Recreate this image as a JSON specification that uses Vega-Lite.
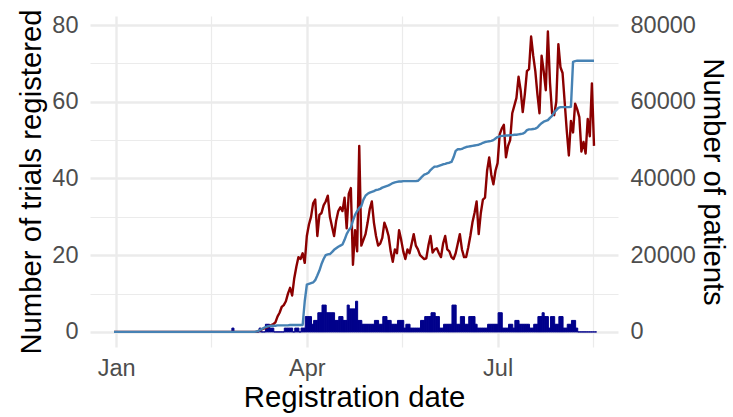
{
  "$schema": "https://vega.github.io/schema/vega-lite/v6.json",
  "width": 528,
  "height": 331,
  "autosize": {"type": "none"},
  "padding": {"left": 90, "top": 16, "right": 115, "bottom": 70},
  "background": "white",
  "config": {
    "view": {"stroke": null},
    "font": "Liberation Sans",
    "axis": {
      "domain": false,
      "ticks": false,
      "tickSize": 0,
      "labelFont": "Liberation Sans",
      "titleFont": "Liberation Sans",
      "labelFontSize": 23.5,
      "titleFontSize": 29.3,
      "labelColor": "#4D4D4D",
      "titleColor": "#000000",
      "titleFontWeight": "normal",
      "gridColor": "#EBEBEB",
      "labelPadding": 12,
      "titlePadding": 5,
      "labelOverlap": false,
      "labelFlush": false
    }
  },
  "data": {"values": [
    {"date":"2019-12-31","trials":0,"trend":0,"patients":0},
    {"date":"2020-01-01","trials":0,"trend":0,"patients":0},
    {"date":"2020-01-02","trials":0,"trend":0,"patients":0},
    {"date":"2020-01-03","trials":0,"trend":0,"patients":0},
    {"date":"2020-01-04","trials":0,"trend":0,"patients":0},
    {"date":"2020-01-05","trials":0,"trend":0,"patients":0},
    {"date":"2020-01-06","trials":0,"trend":0,"patients":0},
    {"date":"2020-01-07","trials":0,"trend":0,"patients":0},
    {"date":"2020-01-08","trials":0,"trend":0,"patients":0},
    {"date":"2020-01-09","trials":0,"trend":0,"patients":0},
    {"date":"2020-01-10","trials":0,"trend":0,"patients":0},
    {"date":"2020-01-11","trials":0,"trend":0,"patients":0},
    {"date":"2020-01-12","trials":0,"trend":0,"patients":0},
    {"date":"2020-01-13","trials":0,"trend":0,"patients":0},
    {"date":"2020-01-14","trials":0,"trend":0,"patients":0},
    {"date":"2020-01-15","trials":0,"trend":0,"patients":0},
    {"date":"2020-01-16","trials":0,"trend":0,"patients":0},
    {"date":"2020-01-17","trials":0,"trend":0,"patients":0},
    {"date":"2020-01-18","trials":0,"trend":0,"patients":0},
    {"date":"2020-01-19","trials":0,"trend":0,"patients":0},
    {"date":"2020-01-20","trials":0,"trend":0,"patients":0},
    {"date":"2020-01-21","trials":0,"trend":0,"patients":0},
    {"date":"2020-01-22","trials":0,"trend":0,"patients":0},
    {"date":"2020-01-23","trials":0,"trend":0,"patients":0},
    {"date":"2020-01-24","trials":0,"trend":0,"patients":0},
    {"date":"2020-01-25","trials":0,"trend":0,"patients":0},
    {"date":"2020-01-26","trials":0,"trend":0,"patients":0},
    {"date":"2020-01-27","trials":0,"trend":0,"patients":0},
    {"date":"2020-01-28","trials":0,"trend":0,"patients":0},
    {"date":"2020-01-29","trials":0,"trend":0,"patients":0},
    {"date":"2020-01-30","trials":0,"trend":0,"patients":0},
    {"date":"2020-01-31","trials":0,"trend":0,"patients":0},
    {"date":"2020-02-01","trials":0,"trend":0,"patients":0},
    {"date":"2020-02-02","trials":0,"trend":0,"patients":0},
    {"date":"2020-02-03","trials":0,"trend":0,"patients":0},
    {"date":"2020-02-04","trials":0,"trend":0,"patients":0},
    {"date":"2020-02-05","trials":0,"trend":0,"patients":0},
    {"date":"2020-02-06","trials":0,"trend":0,"patients":0},
    {"date":"2020-02-07","trials":0,"trend":0,"patients":0},
    {"date":"2020-02-08","trials":0,"trend":0,"patients":0},
    {"date":"2020-02-09","trials":0,"trend":0,"patients":0},
    {"date":"2020-02-10","trials":0,"trend":0,"patients":0},
    {"date":"2020-02-11","trials":0,"trend":0,"patients":0},
    {"date":"2020-02-12","trials":0,"trend":0,"patients":0},
    {"date":"2020-02-13","trials":0,"trend":0,"patients":0},
    {"date":"2020-02-14","trials":0,"trend":0,"patients":0},
    {"date":"2020-02-15","trials":0,"trend":0,"patients":0},
    {"date":"2020-02-16","trials":0,"trend":0,"patients":0},
    {"date":"2020-02-17","trials":0,"trend":0,"patients":0},
    {"date":"2020-02-18","trials":0,"trend":0,"patients":0},
    {"date":"2020-02-19","trials":0,"trend":0,"patients":0},
    {"date":"2020-02-20","trials":0,"trend":0,"patients":0},
    {"date":"2020-02-21","trials":0,"trend":0,"patients":0},
    {"date":"2020-02-22","trials":0,"trend":0,"patients":0},
    {"date":"2020-02-23","trials":0,"trend":0,"patients":0},
    {"date":"2020-02-24","trials":0,"trend":0,"patients":0},
    {"date":"2020-02-25","trials":1,"trend":0,"patients":0},
    {"date":"2020-02-26","trials":0,"trend":0,"patients":0},
    {"date":"2020-02-27","trials":0,"trend":0,"patients":0},
    {"date":"2020-02-28","trials":0,"trend":0,"patients":0},
    {"date":"2020-02-29","trials":0,"trend":0,"patients":0},
    {"date":"2020-03-01","trials":0,"trend":0,"patients":0},
    {"date":"2020-03-02","trials":0,"trend":0,"patients":0},
    {"date":"2020-03-03","trials":0,"trend":0,"patients":0},
    {"date":"2020-03-04","trials":0,"trend":0,"patients":0},
    {"date":"2020-03-05","trials":0,"trend":0,"patients":0},
    {"date":"2020-03-06","trials":0,"trend":0,"patients":0},
    {"date":"2020-03-07","trials":0,"trend":0,"patients":0},
    {"date":"2020-03-08","trials":0,"trend":0,"patients":100},
    {"date":"2020-03-09","trials":1,"trend":0.3,"patients":300},
    {"date":"2020-03-10","trials":0,"trend":0.5,"patients":600},
    {"date":"2020-03-11","trials":0,"trend":0.8,"patients":900},
    {"date":"2020-03-12","trials":2,"trend":1,"patients":1200},
    {"date":"2020-03-13","trials":2,"trend":1.2,"patients":1400},
    {"date":"2020-03-14","trials":1,"trend":1.5,"patients":1500},
    {"date":"2020-03-15","trials":1,"trend":1.8,"patients":1600},
    {"date":"2020-03-16","trials":0,"trend":2,"patients":1600},
    {"date":"2020-03-17","trials":0,"trend":2.5,"patients":1600},
    {"date":"2020-03-18","trials":0,"trend":4,"patients":1700},
    {"date":"2020-03-19","trials":0,"trend":5,"patients":1700},
    {"date":"2020-03-20","trials":0,"trend":6.5,"patients":1700},
    {"date":"2020-03-21","trials":1,"trend":7,"patients":1700},
    {"date":"2020-03-22","trials":1,"trend":8,"patients":1700},
    {"date":"2020-03-23","trials":1,"trend":10,"patients":1700},
    {"date":"2020-03-24","trials":1,"trend":11.5,"patients":1800},
    {"date":"2020-03-25","trials":0,"trend":9.5,"patients":1800},
    {"date":"2020-03-26","trials":1,"trend":14,"patients":1800},
    {"date":"2020-03-27","trials":1,"trend":17,"patients":1800},
    {"date":"2020-03-28","trials":0,"trend":19.5,"patients":1800},
    {"date":"2020-03-29","trials":1,"trend":19,"patients":1800},
    {"date":"2020-03-30","trials":1,"trend":20.5,"patients":1800},
    {"date":"2020-03-31","trials":4,"trend":18,"patients":8000},
    {"date":"2020-04-01","trials":4,"trend":25,"patients":12300},
    {"date":"2020-04-02","trials":4,"trend":28,"patients":12500},
    {"date":"2020-04-03","trials":2,"trend":30,"patients":12700},
    {"date":"2020-04-04","trials":3,"trend":33.5,"patients":12900},
    {"date":"2020-04-05","trials":3,"trend":34.5,"patients":13500},
    {"date":"2020-04-06","trials":5,"trend":25,"patients":14700},
    {"date":"2020-04-07","trials":5,"trend":30.5,"patients":16000},
    {"date":"2020-04-08","trials":7,"trend":31,"patients":17700},
    {"date":"2020-04-09","trials":7,"trend":33,"patients":19000},
    {"date":"2020-04-10","trials":5,"trend":34,"patients":20000},
    {"date":"2020-04-11","trials":5,"trend":35.5,"patients":20200},
    {"date":"2020-04-12","trials":5,"trend":30,"patients":20300},
    {"date":"2020-04-13","trials":5,"trend":27.5,"patients":20800},
    {"date":"2020-04-14","trials":3,"trend":25,"patients":21400},
    {"date":"2020-04-15","trials":3,"trend":29,"patients":21800},
    {"date":"2020-04-16","trials":4,"trend":31.5,"patients":22200},
    {"date":"2020-04-17","trials":4,"trend":32.5,"patients":22500},
    {"date":"2020-04-18","trials":3,"trend":31.5,"patients":22800},
    {"date":"2020-04-19","trials":3,"trend":35,"patients":24000},
    {"date":"2020-04-20","trials":7,"trend":27,"patients":25500},
    {"date":"2020-04-21","trials":6,"trend":36,"patients":26500},
    {"date":"2020-04-22","trials":6,"trend":37.5,"patients":27200},
    {"date":"2020-04-23","trials":6,"trend":17.5,"patients":29000},
    {"date":"2020-04-24","trials":8,"trend":26.5,"patients":30500},
    {"date":"2020-04-25","trials":3,"trend":21,"patients":31500},
    {"date":"2020-04-26","trials":3,"trend":48.5,"patients":32300},
    {"date":"2020-04-27","trials":2,"trend":22.5,"patients":32800},
    {"date":"2020-04-28","trials":2,"trend":24,"patients":34500},
    {"date":"2020-04-29","trials":2,"trend":25.5,"patients":35500},
    {"date":"2020-04-30","trials":2,"trend":28.5,"patients":36000},
    {"date":"2020-05-01","trials":2,"trend":32,"patients":36300},
    {"date":"2020-05-02","trials":2,"trend":34,"patients":36500},
    {"date":"2020-05-03","trials":3,"trend":28.5,"patients":36700},
    {"date":"2020-05-04","trials":3,"trend":25,"patients":37000},
    {"date":"2020-05-05","trials":2,"trend":22.5,"patients":37100},
    {"date":"2020-05-06","trials":2,"trend":23,"patients":37300},
    {"date":"2020-05-07","trials":4,"trend":24.5,"patients":37600},
    {"date":"2020-05-08","trials":4,"trend":28.5,"patients":37800},
    {"date":"2020-05-09","trials":3,"trend":27,"patients":38000},
    {"date":"2020-05-10","trials":3,"trend":25,"patients":38200},
    {"date":"2020-05-11","trials":2,"trend":21,"patients":38500},
    {"date":"2020-05-12","trials":2,"trend":18.3,"patients":38800},
    {"date":"2020-05-13","trials":2,"trend":21.5,"patients":39000},
    {"date":"2020-05-14","trials":3,"trend":20.5,"patients":39100},
    {"date":"2020-05-15","trials":3,"trend":26.5,"patients":39200},
    {"date":"2020-05-16","trials":3,"trend":24,"patients":39200},
    {"date":"2020-05-17","trials":1,"trend":21,"patients":39300},
    {"date":"2020-05-18","trials":2,"trend":19,"patients":39300},
    {"date":"2020-05-19","trials":2,"trend":21.5,"patients":39300},
    {"date":"2020-05-20","trials":1,"trend":20.5,"patients":39300},
    {"date":"2020-05-21","trials":1,"trend":23,"patients":39300},
    {"date":"2020-05-22","trials":1,"trend":25.5,"patients":39300},
    {"date":"2020-05-23","trials":1,"trend":22.5,"patients":39300},
    {"date":"2020-05-24","trials":1,"trend":21.5,"patients":39400},
    {"date":"2020-05-25","trials":3,"trend":20,"patients":39900},
    {"date":"2020-05-26","trials":3,"trend":19.5,"patients":40500},
    {"date":"2020-05-27","trials":4,"trend":19,"patients":41000},
    {"date":"2020-05-28","trials":4,"trend":19.2,"patients":41200},
    {"date":"2020-05-29","trials":4,"trend":22.5,"patients":41500},
    {"date":"2020-05-30","trials":5,"trend":25,"patients":42200},
    {"date":"2020-05-31","trials":5,"trend":20.7,"patients":42700},
    {"date":"2020-06-01","trials":4,"trend":21.5,"patients":43100},
    {"date":"2020-06-02","trials":4,"trend":21.8,"patients":43100},
    {"date":"2020-06-03","trials":1,"trend":20.5,"patients":43300},
    {"date":"2020-06-04","trials":1,"trend":19.5,"patients":43500},
    {"date":"2020-06-05","trials":2,"trend":23,"patients":43700},
    {"date":"2020-06-06","trials":2,"trend":25,"patients":43800},
    {"date":"2020-06-07","trials":2,"trend":21.5,"patients":44000},
    {"date":"2020-06-08","trials":2,"trend":21,"patients":44100},
    {"date":"2020-06-09","trials":7,"trend":19.5,"patients":44300},
    {"date":"2020-06-10","trials":7,"trend":19,"patients":45500},
    {"date":"2020-06-11","trials":2,"trend":20.5,"patients":47200},
    {"date":"2020-06-12","trials":2,"trend":23,"patients":47600},
    {"date":"2020-06-13","trials":4,"trend":25.5,"patients":47600},
    {"date":"2020-06-14","trials":4,"trend":21.5,"patients":47700},
    {"date":"2020-06-15","trials":2,"trend":19.5,"patients":48000},
    {"date":"2020-06-16","trials":2,"trend":19.5,"patients":48200},
    {"date":"2020-06-17","trials":4,"trend":22,"patients":48300},
    {"date":"2020-06-18","trials":4,"trend":25,"patients":48400},
    {"date":"2020-06-19","trials":4,"trend":28.5,"patients":48500},
    {"date":"2020-06-20","trials":2,"trend":31,"patients":48600},
    {"date":"2020-06-21","trials":1,"trend":34,"patients":48700},
    {"date":"2020-06-22","trials":1,"trend":25.5,"patients":48800},
    {"date":"2020-06-23","trials":1,"trend":31,"patients":49000},
    {"date":"2020-06-24","trials":1,"trend":34.5,"patients":49300},
    {"date":"2020-06-25","trials":1,"trend":35,"patients":49500},
    {"date":"2020-06-26","trials":2,"trend":42,"patients":49600},
    {"date":"2020-06-27","trials":2,"trend":45.5,"patients":49700},
    {"date":"2020-06-28","trials":2,"trend":41,"patients":49800},
    {"date":"2020-06-29","trials":2,"trend":38.5,"patients":50000},
    {"date":"2020-06-30","trials":2,"trend":42,"patients":50400},
    {"date":"2020-07-01","trials":5,"trend":44,"patients":50800},
    {"date":"2020-07-02","trials":5,"trend":51.5,"patients":51000},
    {"date":"2020-07-03","trials":1,"trend":53,"patients":51100},
    {"date":"2020-07-04","trials":1,"trend":54,"patients":51100},
    {"date":"2020-07-05","trials":1,"trend":45.5,"patients":51200},
    {"date":"2020-07-06","trials":2,"trend":48.5,"patients":51200},
    {"date":"2020-07-07","trials":2,"trend":50,"patients":51300},
    {"date":"2020-07-08","trials":1,"trend":57,"patients":51300},
    {"date":"2020-07-09","trials":3,"trend":59,"patients":51400},
    {"date":"2020-07-10","trials":3,"trend":61,"patients":51400},
    {"date":"2020-07-11","trials":2,"trend":66.5,"patients":51500},
    {"date":"2020-07-12","trials":2,"trend":63,"patients":51600},
    {"date":"2020-07-13","trials":2,"trend":57.3,"patients":51700},
    {"date":"2020-07-14","trials":2,"trend":62,"patients":52000},
    {"date":"2020-07-15","trials":2,"trend":68,"patients":52600},
    {"date":"2020-07-16","trials":1,"trend":68.5,"patients":52800},
    {"date":"2020-07-17","trials":1,"trend":77,"patients":52800},
    {"date":"2020-07-18","trials":2,"trend":72,"patients":52900},
    {"date":"2020-07-19","trials":2,"trend":68,"patients":53000},
    {"date":"2020-07-20","trials":4,"trend":62,"patients":53300},
    {"date":"2020-07-21","trials":4,"trend":57,"patients":53900},
    {"date":"2020-07-22","trials":5,"trend":72,"patients":54400},
    {"date":"2020-07-23","trials":4,"trend":68,"patients":54800},
    {"date":"2020-07-24","trials":4,"trend":63,"patients":55000},
    {"date":"2020-07-25","trials":1,"trend":78.3,"patients":55200},
    {"date":"2020-07-26","trials":4,"trend":65,"patients":55800},
    {"date":"2020-07-27","trials":4,"trend":57,"patients":56300},
    {"date":"2020-07-28","trials":2,"trend":56.5,"patients":57200},
    {"date":"2020-07-29","trials":2,"trend":60,"patients":57800},
    {"date":"2020-07-30","trials":4,"trend":75,"patients":58400},
    {"date":"2020-07-31","trials":4,"trend":69,"patients":58600},
    {"date":"2020-08-01","trials":1,"trend":67.5,"patients":58600},
    {"date":"2020-08-02","trials":1,"trend":60,"patients":58600},
    {"date":"2020-08-03","trials":2,"trend":52.5,"patients":58600},
    {"date":"2020-08-04","trials":2,"trend":46,"patients":58600},
    {"date":"2020-08-05","trials":3,"trend":55,"patients":58700},
    {"date":"2020-08-06","trials":3,"trend":52,"patients":70400},
    {"date":"2020-08-07","trials":1,"trend":59.5,"patients":70600},
    {"date":"2020-08-08","trials":0,"trend":58,"patients":70700},
    {"date":"2020-08-09","trials":0,"trend":56,"patients":70700},
    {"date":"2020-08-10","trials":0,"trend":47,"patients":70700},
    {"date":"2020-08-11","trials":0,"trend":49.5,"patients":70700},
    {"date":"2020-08-12","trials":0,"trend":46.5,"patients":70700},
    {"date":"2020-08-13","trials":0,"trend":55.5,"patients":70700},
    {"date":"2020-08-14","trials":0,"trend":51,"patients":70700},
    {"date":"2020-08-15","trials":0,"trend":64.8,"patients":70700},
    {"date":"2020-08-16","trials":0,"trend":48.5,"patients":70700}
  ]},
  "layer": [
    {
      "mark": {"type": "bar", "color": "#00008B", "stroke": "#00008B", "strokeWidth": 1, "binSpacing": 0},
      "encoding": {
        "x": {
          "field": "date", "type": "temporal", "timeUnit": "utcyearmonthdate",
          "title": "Registration date",
          "scale": {"type": "utc", "domain": [
            {"year": 2019, "month": 12, "date": 19, "hours": 13, "minutes": 12, "utc": true},
            {"year": 2020, "month": 8, "date": 27, "hours": 10, "minutes": 48, "utc": true}
          ]},
          "axis": {
            "values": [
              {"year": 2020, "month": 1, "date": 1, "utc": true},
              {"year": 2020, "month": 2, "date": 15, "hours": 12, "utc": true},
              {"year": 2020, "month": 4, "date": 1, "utc": true},
              {"year": 2020, "month": 5, "date": 16, "hours": 12, "utc": true},
              {"year": 2020, "month": 7, "date": 1, "utc": true},
              {"year": 2020, "month": 8, "date": 15, "hours": 12, "utc": true}
            ],
            "labelPadding": 9,
            "titlePadding": 4,
            "labelExpr": "utcdate(datum.value) == 1 ? utcFormat(datum.value, '%b') : ''",
            "gridWidth": {"condition": {"test": "utcdate(datum.value) == 1", "value": 2.4}, "value": 1.2}
          }
        },
        "y": {
          "field": "trials", "type": "quantitative",
          "title": "Number of trials registered",
          "scale": {"domain": [-3.93, 82.35], "nice": false, "zero": false},
          "axis": {
            "values": [0, 10, 20, 30, 40, 50, 60, 70, 80],
            "labelExpr": "datum.value % 20 == 0 ? datum.label : ''",
            "gridWidth": {"condition": {"test": "datum.value % 20 == 0", "value": 2.4}, "value": 1.2}
          }
        }
      }
    },
    {
      "mark": {"type": "line", "color": "#8B0000", "strokeWidth": 2.4, "strokeJoin": "round"},
      "encoding": {
        "x": {"field": "date", "type": "temporal", "title": "Registration date"},
        "y": {
          "field": "trend", "type": "quantitative",
          "scale": {"domain": [-3.93, 82.35], "nice": false, "zero": false},
          "axis": null
        }
      }
    },
    {
      "mark": {"type": "line", "color": "#4682B4", "strokeWidth": 2.4, "strokeJoin": "round"},
      "encoding": {
        "x": {"field": "date", "type": "temporal", "title": "Registration date"},
        "y": {
          "field": "patients", "type": "quantitative",
          "title": "Number of patients",
          "scale": {"domain": [-3930, 82350], "nice": false, "zero": false},
          "axis": {"orient": "right", "values": [0, 20000, 40000, 60000, 80000], "format": "d", "grid": false, "titlePadding": 2}
        }
      }
    }
  ],
  "resolve": {"scale": {"y": "independent"}}
}
